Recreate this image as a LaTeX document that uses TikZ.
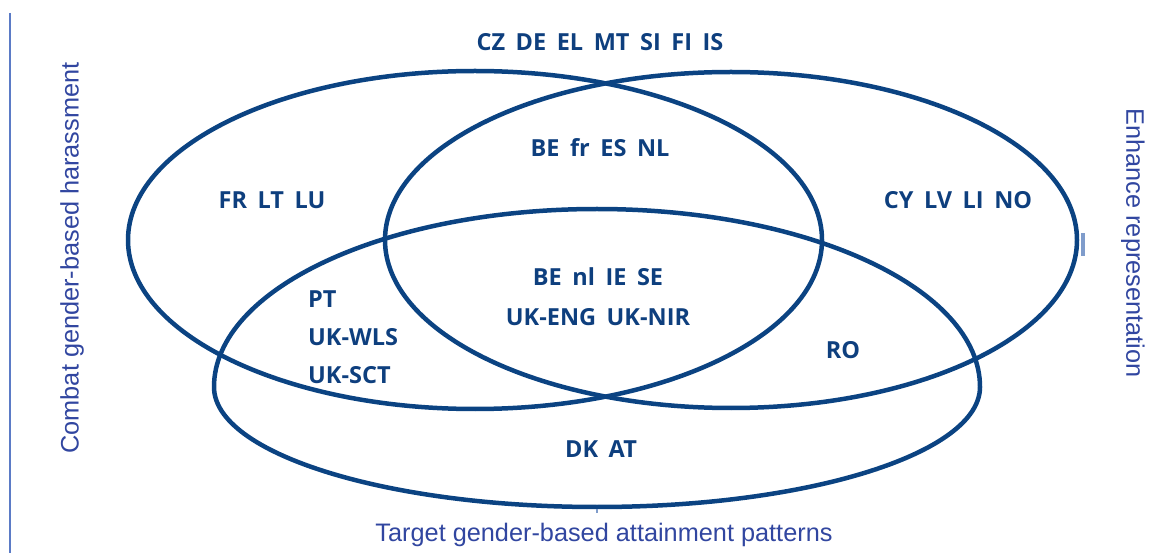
\documentclass[tikz,border=0pt]{standalone}
\usepackage{fontspec}
\setmainfont{Open Sans}
\newfontfamily\axisfont{Liberation Sans}
\newcommand\regionfont{\fontsize{23.5}{33}\selectfont\bfseries\spaceskip 0.45em plus 0pt\relax}
\definecolor{ell}{HTML}{0B4382}
\definecolor{lab}{HTML}{0E3F7E}
\definecolor{axis}{HTML}{3146A0}
\definecolor{rulecol}{HTML}{5B7BC6}
\definecolor{tickcol}{HTML}{7F9CCB}
\begin{document}
\begin{tikzpicture}[x=1pt,y=-1pt,
  set/.style={draw=ell, line width=4.5pt},
  region/.style={text=lab, inner sep=0pt, font=\regionfont},
  axislabel/.style={text=axis, inner sep=0pt,
    font=\axisfont\fontsize{25.3}{30}\selectfont}]
\useasboundingbox (0,0) rectangle (1168,553);
% left rule
\draw[rulecol, line width=2pt] (10,13) -- (10,553);
% three sets
\draw[set] (475,240) ellipse[x radius=347, y radius=169];
\draw[set] (731,240) ellipse[x radius=346, y radius=168];
\draw[set] (214,387) arc[start angle=180, end angle=360, x radius=383, y radius=178]
                     arc[start angle=0, end angle=180, x radius=383, y radius=120] -- cycle;
% small marks
\fill[tickcol] (1081,233) rectangle (1085,256);
\fill[tickcol] (596,509) rectangle (598,513);
% region labels
\node[region] (top) at (600,42) {CZ DE EL MT SI FI IS};
\node[region] (lr) at (600,148) {BE fr ES NL};
\node[region] (l) at (272,200) {FR LT LU};
\node[region] (r) at (958,200) {CY LV LI NO};
\node[region] (c1) at (598,277) {BE nl IE SE};
\node[region] (c2) at (598,317) {UK-ENG UK-NIR};
\node[region, anchor=west] (lb1) at (308,299) {PT};
\node[region, anchor=west] (lb2) at (308,337) {UK-WLS};
\node[region, anchor=west] (lb3) at (308,375) {UK-SCT};
\node[region] (rb) at (843,350) {RO};
\node[region] (b) at (601,449) {DK AT};
% axis labels
\node[axislabel, rotate=90] (ax1) at (72,258) {Combat gender-based harassment};
\node[axislabel, rotate=-90] (ax2) at (1133,243) {Enhance representation};
\node[axislabel] (ax3) at (604,535) {Target gender-based attainment patterns};
\end{tikzpicture}
\end{document}
